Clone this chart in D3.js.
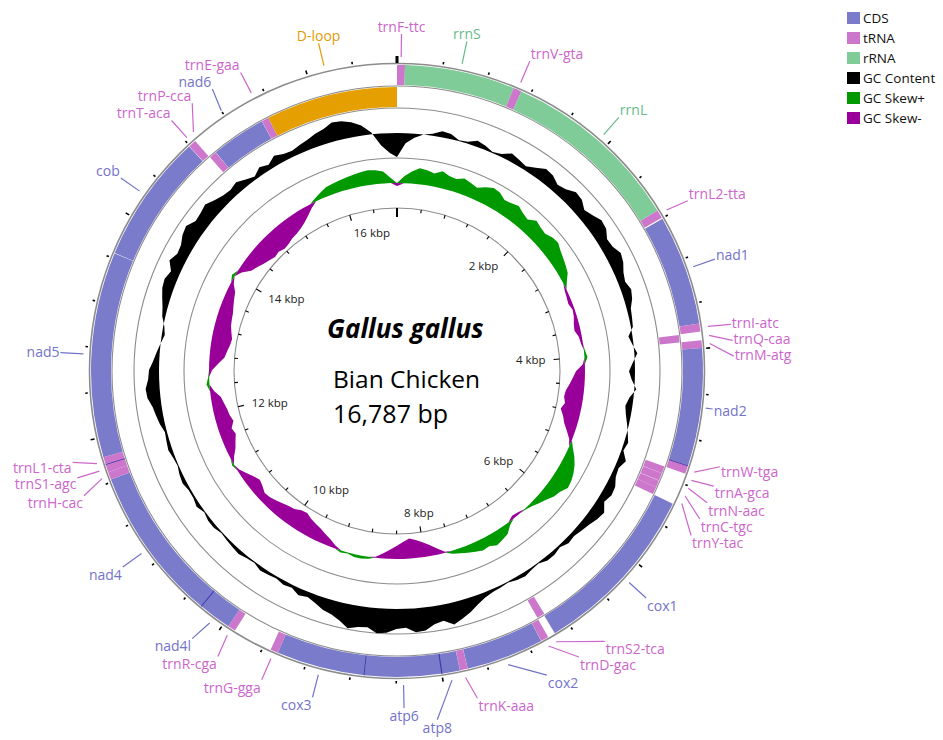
<!DOCTYPE html>
<html>
<head>
<meta charset="utf-8">
<script src="https://cdn.jsdelivr.net/npm/d3@7"></script>
<style>
  body { margin: 0; background: #fff; }
  svg text { font-family: "Open Sans", "Noto Sans", sans-serif; }
</style>
</head>
<body>
<div id="map"></div>
<script>
const genomeLength = 16787;

// gene map (position 1 = trnF)
const featureNames = ["trnF-ttc","rrnS","trnV-gta","rrnL","trnL2-tta","nad1","trnI-atc","trnQ-caa","trnM-atg","nad2",
  "trnW-tga","trnA-gca","trnN-aac","trnC-tgc","trnY-tac","cox1","trnS2-tca","trnD-gac","cox2","trnK-aaa",
  "atp8","atp6","cox3","trnG-gga","trnR-cga","nad4l","nad4","trnH-cac","trnS1-agc","trnL1-cta",
  "nad5","cob","trnT-aca","trnP-cca","nad6","trnE-gaa","D-loop"];
const featureTypes = ["tRNA","rRNA","tRNA","rRNA","tRNA","CDS","tRNA","tRNA","tRNA","CDS",
  "tRNA","tRNA","tRNA","tRNA","tRNA","CDS","tRNA","tRNA","CDS","tRNA",
  "CDS","CDS","CDS","tRNA","tRNA","CDS","CDS","tRNA","tRNA","tRNA",
  "CDS","CDS","tRNA","tRNA","CDS","tRNA","D-loop"];
const featureStrands = [1,1,1,1,1,1,1,-1,1,1, 1,-1,-1,-1,-1,1,-1,1,1,1, 1,1,1,1,1,1,1,1,1,1, 1,1,1,-1,-1,-1,-1];
const featureStarts = [1,71,1046,1119,2722,2806,3781,3858,3928,3997,
  5036,5113,5183,5258,5324,5396,6938,7014,7084,7772,
  7841,7996,8679,9463,9885,9954,10244,11622,11691,11756,
  11827,13649,14795,14868,14940,15464,15532];
const featureEnds = [70,1045,1118,2721,2795,3780,3852,3928,3996,5037,
  5111,5181,5255,5323,5394,6946,7011,7082,7770,7839,
  8005,8679,9462,9531,9953,10250,11621,11690,11756,11826,
  13644,14791,14863,14937,15461,15531,16787];

// GC content / GC skew, one value every 100 bp (deviation from the mean in px)
const gcStep = 100;
const gcContent = [
  -24,-10,-4,0,2,6,5,1,2,6, 4,1,3,8,6,4,8,13,12,8,
  10,15,14,9,12,16,15,10,11,15, 13,9,7,10,8,4,3,2,-4,-1,
  3,-2,-6,-3,2,-4,-7,-5,-2,1, 4,2,8,4,5,9,10,7,13,11,
  8,6,4,5,2,4,4,1,2,4, 3,1,2,3,5,9,14,18,22,16,
  18,23,24,19,20,24,25,20,21,24, 18,14,12,8,5,7,3,4,2,3,
  4,1,2,4,3,2,1,3,3,1, 4,2,2,4,3,1,2,4,3,2,
  5,7,9,13,14,11,10,6,3,0, -3,-1,3,5,8,11,12,9,15,11,
  12,16,18,13,14,16,12,9,8,10, 6,3,8,5,10,7,6,8,10,13,
  15,19,18,15,10,2,-12,-20];
const gcSkew = [
  -3,7,12,16,15,13,17,14,13,16, 14,12,16,19,18,14,15,17,14,12,
  17,15,14,17,18,15,13,11,9,4, -2,-3,-4,-2,-3,-5,-6,-3,-2,1,
  3,-2,-9,-12,-15,-18,-19,-17,-20,-16, -13,-8,-3,4,9,13,16,18,19,15,
  13,9,6,3,1,-2,-3,3,9,11, 13,10,11,9,7,5,3,-1,-6,-11,
  -15,-18,-20,-17,-13,-9,-5,-1,2,3, 3,1,2,-3,-7,-10,-13,-15,-17,-20,
  -19,-16,-15,-13,-11,-9,-8,-11,-13,-10, -6,-2,2,-4,-9,-12,-15,-13,-17,-15,
  -14,-12,-10,-4,3,1,-3,-9,-15,-17, -19,-20,-18,-16,-15,-14,-12,-10,-8,-3,
  3,-4,-11,-14,-17,-19,-21,-20,-22,-21, -19,-18,-16,-13,-9,-4,3,6,9,10,
  11,12,13,14,15,14,12,5];

const tickStep = 400;
const tickLabelStep = 2000;
const tickLabels = ["2 kbp","4 kbp","6 kbp","8 kbp","10 kbp","12 kbp","14 kbp","16 kbp"];

const legendNames = ["CDS","tRNA","rRNA","GC Content","GC Skew+","GC Skew-"];
const legendColors = ["#7b7bcc","#cc77cc","#80cc99","#000000","#009900","#990099"];

// label layout tweaks for crowded labels: angle shift (degrees) and extra radius (px)
const labelNudge = {"trnL2-tta":0.5,"trnI-atc":0.2,"trnQ-caa":1.3,"trnM-atg":2.5,"trnW-tga":-2.3,"trnA-gca":-0.4,
  "trnN-aac":1.1,"trnC-tgc":2.6,"trnY-tac":4.3,"trnS2-tca":-7.1,"trnD-gac":-3.6,"cox2":-5.5,"trnK-aaa":-1.2,
  "atp8":3.5,"nad4l":0.8,"trnR-cga":-0.6,"trnL1-cta":1.4,"trnS1-agc":0.1,"trnH-cac":-1.7,"trnP-cca":3,"nad6":0.8};
const labelOut = {"atp8":14,"trnS2-tca":4,"trnD-gac":2,"cox2":2,"nad2":-19};

const fillColor = {"CDS":"#7b7bcc","tRNA":"#cc77cc","rRNA":"#80cc99","D-loop":"#e69f00"};
const textColor = {"CDS":"#7373c9","tRNA":"#cc66cc","rRNA":"#66bb88","D-loop":"#e39a05"};

const width = 943, height = 740;
const cx = 397, cy = 371;

const svg = d3.select('#map').append('svg')
  .attr('width', width)
  .attr('height', height);

const g = svg.append('g').attr('transform', 'translate(' + cx + ',' + cy + ')');

const angle = d3.scaleLinear().domain([0, genomeLength]).range([0, 2 * Math.PI]);

function polar(r, a) {
  return [r * Math.sin(a), -r * Math.cos(a)];
}

// ring radii
const outerRing = [286, 306];
const innerRing = [264, 284];
const gcBase = 238, skewBase = 188;
const innerCircle = 163;

// gray guide circles
[307.5, 285, 263, 213, innerCircle].forEach(function(r) {
  g.append('circle').attr('r', r)
    .attr('fill', 'none')
    .attr('stroke', '#8c8c8c')
    .attr('stroke-width', r > 300 ? 1.6 : 1.1);
});

// gene features
const features = featureNames.map(function(n, i) {
  return {name: n, type: featureTypes[i], strand: featureStrands[i], start: featureStarts[i], end: featureEnds[i]};
});

const arc = d3.arc();
g.selectAll('path.feature')
  .data(features)
  .enter()
  .append('path')
  .attr('class', 'feature')
  .attr('d', function(d) {
    const ring = d.strand > 0 ? outerRing : innerRing;
    return arc({innerRadius: ring[0], outerRadius: ring[1],
      startAngle: angle(d.start - 1), endAngle: angle(d.end)});
  })
  .attr('fill', function(d) { return fillColor[d.type]; });

// darker seam where two genes of the same ring overlap
const overlaps = [];
features.forEach(function(d, i) {
  const nxt = features[i + 1];
  if (nxt && nxt.strand === d.strand && nxt.start <= d.end) overlaps.push({strand: d.strand, start: nxt.start - 1, end: d.end});
});
g.selectAll('path.overlap')
  .data(overlaps)
  .enter()
  .append('path')
  .attr('d', function(d) {
    const ring = d.strand > 0 ? outerRing : innerRing;
    return arc({innerRadius: ring[0], outerRadius: ring[1],
      startAngle: angle(d.start), endAngle: angle(Math.max(d.end, d.start + 8))});
  })
  .attr('fill', '#3a3aa8');

// GC content
function trackPoints(values) {
  const pts = values.map(function(v, i) { return {pos: i * gcStep, v: v}; });
  pts.push({pos: genomeLength, v: values[0]});
  return pts;
}

g.append('path')
  .datum(trackPoints(gcContent))
  .attr('d', d3.areaRadial()
    .angle(function(d) { return angle(d.pos); })
    .innerRadius(gcBase)
    .outerRadius(function(d) { return gcBase + d.v; }))
  .attr('fill', '#000');

// GC skew
const skewPts = trackPoints(gcSkew);
g.append('path')
  .datum(skewPts)
  .attr('d', d3.areaRadial()
    .angle(function(d) { return angle(d.pos); })
    .innerRadius(skewBase)
    .outerRadius(function(d) { return skewBase + Math.max(0, d.v); }))
  .attr('fill', '#009900');
g.append('path')
  .datum(skewPts)
  .attr('d', d3.areaRadial()
    .angle(function(d) { return angle(d.pos); })
    .innerRadius(skewBase)
    .outerRadius(function(d) { return skewBase + Math.min(0, d.v); }))
  .attr('fill', '#990099');

// ticks
const ticks = d3.range(0, genomeLength, tickStep);
g.selectAll('line.outerTick')
  .data(ticks)
  .enter()
  .append('line')
  .attr('x1', function(d) { return polar(d === 0 ? 308 : 310, angle(d))[0]; })
  .attr('y1', function(d) { return polar(d === 0 ? 308 : 310, angle(d))[1]; })
  .attr('x2', function(d) { return polar(d === 0 ? 315 : (d % tickLabelStep === 0 ? 314 : 312.5), angle(d))[0]; })
  .attr('y2', function(d) { return polar(d === 0 ? 315 : (d % tickLabelStep === 0 ? 314 : 312.5), angle(d))[1]; })
  .attr('stroke', '#000')
  .attr('stroke-width', function(d) { return d === 0 ? 3 : 1.6; });

g.selectAll('line.innerTick')
  .data(ticks)
  .enter()
  .append('line')
  .attr('x1', function(d) { return polar(innerCircle, angle(d))[0]; })
  .attr('y1', function(d) { return polar(innerCircle, angle(d))[1]; })
  .attr('x2', function(d) { const r = d === 0 ? 154 : (d % tickLabelStep === 0 ? 157 : 159.5); return polar(r, angle(d))[0]; })
  .attr('y2', function(d) { const r = d === 0 ? 154 : (d % tickLabelStep === 0 ? 157 : 159.5); return polar(r, angle(d))[1]; })
  .attr('stroke', '#000')
  .attr('stroke-width', function(d) { return d === 0 ? 2 : 1.1; });

// tick labels, tucked inside the inner circle
tickLabels.forEach(function(t, i) {
  const a = angle((i + 1) * tickLabelStep);
  const p = polar(149, a);
  const s = Math.sin(a), c = Math.cos(a);
  const anchor = Math.abs(s) < 0.2 ? 'middle' : (s > 0 ? 'end' : 'start');
  g.append('text')
    .attr('x', p[0])
    .attr('y', p[1] + 4 + c * 5)
    .attr('text-anchor', anchor)
    .attr('font-size', 11.5)
    .attr('fill', '#222')
    .text(t);
});

// feature labels with leader lines
features.forEach(function(d) {
  const mid = angle((d.start + d.end) / 2);
  const la = mid + (labelNudge[d.name] || 0) * Math.PI / 180;
  const lr = 338 + (labelOut[d.name] || 0);
  const p0 = polar(lr < 330 ? 311 : 314, mid);
  const p1 = polar(lr - 1, la);
  const col = textColor[d.type];
  g.append('line')
    .attr('x1', p0[0]).attr('y1', p0[1])
    .attr('x2', p1[0]).attr('y2', p1[1])
    .attr('stroke', col)
    .attr('stroke-width', 1.2);
  const s = Math.sin(la), c = Math.cos(la);
  const anchor = Math.abs(s) < 0.235 ? 'middle' : (s > 0 ? 'start' : 'end');
  const off = c > 0 ? -7 * Math.min(1, c * 1.8) : 8 * Math.min(1, -c * 2.5);
  g.append('text')
    .attr('x', p1[0] + (anchor === 'start' ? 1 : anchor === 'end' ? -1 : 0))
    .attr('y', p1[1] + off)
    .attr('dy', '0.35em')
    .attr('text-anchor', anchor)
    .attr('font-size', 14)
    .attr('fill', col)
    .text(d.name);
});

// center titles
g.append('text')
  .attr('x', -70).attr('y', -33)
  .attr('font-size', 26)
  .attr('font-weight', 'bold')
  .attr('font-style', 'italic')
  .attr('fill', '#000')
  .text('Gallus gallus');
g.append('text')
  .attr('x', -64).attr('y', 17)
  .attr('font-size', 24.5)
  .attr('fill', '#000')
  .text('Bian Chicken');
g.append('text')
  .attr('x', -64).attr('y', 52)
  .attr('font-size', 25)
  .attr('fill', '#000')
  .text('16,787 bp');

// legend
const legend = svg.append('g').attr('transform', 'translate(847,12)');
legend.selectAll('rect')
  .data(legendNames)
  .enter()
  .append('rect')
  .attr('x', 0)
  .attr('y', function(d, i) { return i * 20; })
  .attr('width', 13)
  .attr('height', 12)
  .attr('fill', function(d, i) { return legendColors[i]; });
legend.selectAll('text')
  .data(legendNames)
  .enter()
  .append('text')
  .attr('x', 16)
  .attr('y', function(d, i) { return i * 20 + 11; })
  .attr('font-size', 13.5)
  .attr('fill', '#111')
  .text(function(d) { return d; });
</script>
</body>
</html>
